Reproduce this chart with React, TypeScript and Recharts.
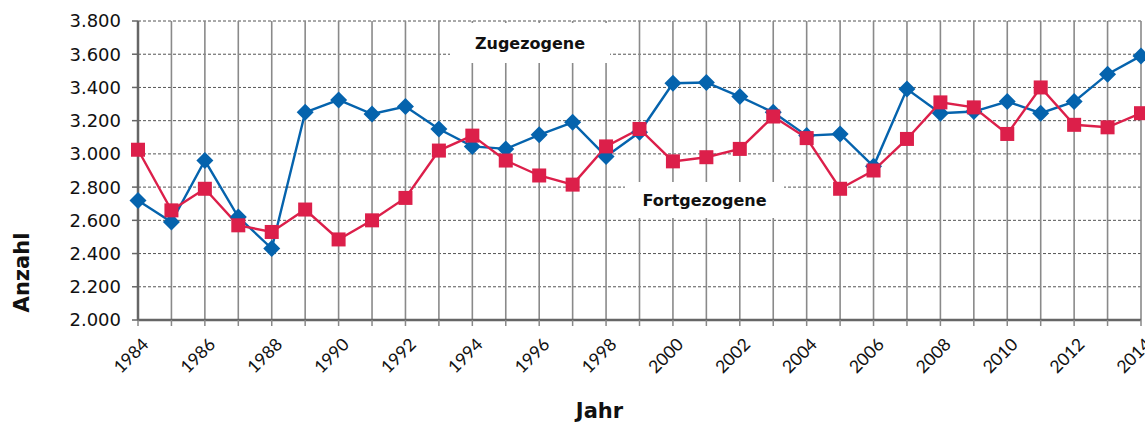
import { CartesianGrid, Line, LineChart, XAxis, YAxis } from "recharts"

const years = [
  1984, 1985, 1986, 1987, 1988, 1989, 1990, 1991, 1992, 1993, 1994, 1995, 1996, 1997, 1998, 1999, 2000, 2001, 2002,
  2003, 2004, 2005, 2006, 2007, 2008, 2009, 2010, 2011, 2012, 2013, 2014,
]
const zugezogene = [
  2720, 2590, 2960, 2620, 2430, 3250, 3325, 3240, 3285, 3150, 3045, 3030, 3115, 3190, 2985, 3130, 3425, 3430, 3345,
  3250, 3110, 3120, 2925, 3390, 3245, 3255, 3315, 3245, 3315, 3480, 3590,
]
const fortgezogene = [
  3025, 2660, 2790, 2570, 2530, 2665, 2485, 2600, 2735, 3020, 3110, 2960, 2870, 2815, 3045, 3150, 2955, 2980, 3030,
  3225, 3095, 2790, 2900, 3090, 3310, 3280, 3120, 3400, 3175, 3160, 3245,
]
const yTicks = [2000, 2200, 2400, 2600, 2800, 3000, 3200, 3400, 3600, 3800]

const data = years.map((year, i) => ({ year, zu: zugezogene[i], fort: fortgezogene[i] }))

const font = "'DejaVu Sans', sans-serif"
const tickFont = "Lato, 'Open Sans', sans-serif"
const blue = "#0563ad"
const red = "#dc1f4a"

const fmt = (v: number) => v.toLocaleString("de-DE")

function YearTick({ x, y, payload }: any) {
  if (payload.value % 2 !== 0) return null
  return (
    <text
      transform={`translate(${x + 7},${y + 13}) rotate(-45)`}
      textAnchor="end"
      dominantBaseline="central"
      fontSize={17.5}
      fontFamily={tickFont}
      fill="#111"
    >
      {payload.value}
    </text>
  )
}

function Diamond({ cx, cy }: any) {
  if (cx == null || cy == null) return null
  const r = 8.5
  return <polygon points={`${cx},${cy - r} ${cx + r},${cy} ${cx},${cy + r} ${cx - r},${cy}`} fill={blue} />
}

function Square({ cx, cy }: any) {
  if (cx == null || cy == null) return null
  const s = 14
  return <rect x={cx - s / 2} y={cy - s / 2} width={s} height={s} fill={red} />
}

const boxLabel = (left: number, top: number, width: number, height: number, text: string) => (
  <div
    style={{
      position: "absolute",
      left,
      top,
      width,
      height,
      background: "#fff",
      display: "flex",
      alignItems: "center",
      justifyContent: "center",
      fontFamily: font,
      fontWeight: 700,
      fontSize: 16,
      color: "#111",
    }}
  >
    {text}
  </div>
)

export default function App() {
  return (
    <div style={{ position: "absolute", left: 0, top: 0, width: 1145, height: 423, background: "#fff" }}>
      <LineChart width={1145} height={423} data={data} margin={{ top: 21, right: 4, bottom: 0, left: 0 }}>
        <CartesianGrid horizontal={true} vertical={false} stroke="#555" strokeDasharray="3 2" />
        <CartesianGrid horizontal={false} vertical={true} stroke="#8a8a8a" strokeWidth={1.6} />
        <XAxis
          dataKey="year"
          type="number"
          domain={[1984, 2014]}
          ticks={years}
          interval={0}
          height={103}
          tick={<YearTick />}
          tickSize={6}
          stroke="#666"
          strokeWidth={2.5}
          tickLine={{ stroke: "#888", strokeWidth: 1.5 }}
          label={{
            value: "Jahr",
            position: "insideBottom",
            offset: 5,
            dx: -40,
            fontSize: 21,
            fontWeight: 700,
            fontFamily: font,
            fill: "#111",
          }}
        />
        <YAxis
          domain={[2000, 3800]}
          ticks={yTicks}
          width={138}
          tickFormatter={fmt}
          tickSize={6}
          tick={{ fontSize: 18, fontFamily: font, fill: "#111", dx: -9 }}
          stroke="#666"
          strokeWidth={2.5}
          tickLine={{ stroke: "#666", strokeWidth: 1.5 }}
          label={{
            value: "Anzahl",
            angle: -90,
            position: "insideLeft",
            offset: 22,
            dy: 102,
            fontSize: 21,
            fontWeight: 700,
            fontFamily: font,
            fill: "#111",
            style: { textAnchor: "middle" },
          }}
        />
        <Line dataKey="zu" stroke={blue} strokeWidth={2.4} dot={<Diamond />} isAnimationActive={false} />
        <Line dataKey="fort" stroke={red} strokeWidth={2.4} dot={<Square />} isAnimationActive={false} />
      </LineChart>
      {boxLabel(450, 23, 160, 40, "Zugezogene")}
      {boxLabel(625, 182, 159, 36, "Fortgezogene")}
    </div>
  )
}
